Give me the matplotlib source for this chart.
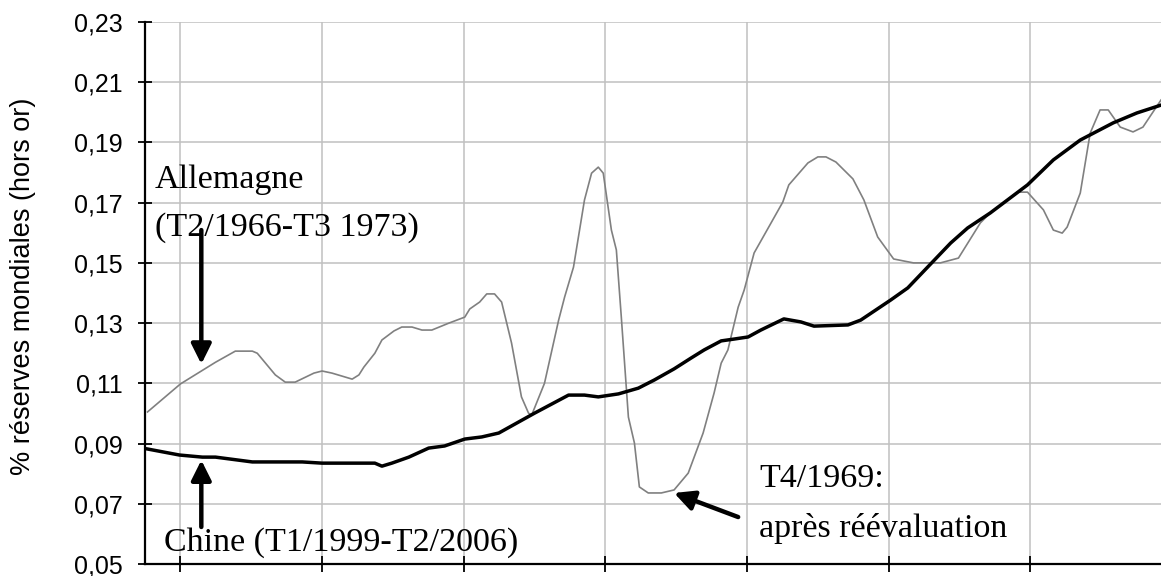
import matplotlib
matplotlib.use("Agg")
import matplotlib.pyplot as plt
from matplotlib.ticker import FuncFormatter


# trimestres depuis le debut de chaque periode
t_allemagne = [0.07, 1.00, 1.99, 2.55, 3.03, 3.17, 3.68, 3.96, 4.24, 4.77,
               5.00, 5.28, 5.85, 6.04, 6.18, 6.49, 6.69, 7.03, 7.25, 7.54,
               7.82, 8.10, 8.58, 9.03, 9.17, 9.45, 9.65, 9.87, 10.07, 10.35,
               10.63, 10.83, 10.92, 11.28, 11.68, 11.85, 12.10, 12.41, 12.61, 12.80,
               12.94, 13.17, 13.31, 13.45, 13.65, 13.82, 13.96, 14.21, 14.58, 14.94,
               15.34, 15.76, 16.07, 16.27, 16.46, 16.75, 16.92, 17.20, 17.68, 18.01,
               18.18, 18.72, 19.00, 19.23, 19.51, 19.99, 20.30, 20.69, 21.14, 21.70,
               22.46, 22.97, 23.59, 23.87, 24.63, 24.92, 25.37, 25.65, 25.90, 26.04,
               26.41, 26.69, 26.97, 27.20, 27.54, 27.90, 28.18, 28.69]

allemagne = [0.1005, 0.1098, 0.1170, 0.1207, 0.1207, 0.1200, 0.1128, 0.1104, 0.1104, 0.1134,
             0.1141, 0.1134, 0.1114, 0.1128, 0.1154, 0.1200, 0.1244, 0.1274, 0.1287, 0.1287,
             0.1277, 0.1277, 0.1300, 0.1320, 0.1347, 0.1370, 0.1397, 0.1397, 0.1370, 0.1234,
             0.1055, 0.1001, 0.0995, 0.1100, 0.1310, 0.1387, 0.1486, 0.1709, 0.1798, 0.1818,
             0.1798, 0.1609, 0.1543, 0.1320, 0.0988, 0.0902, 0.0756, 0.0736, 0.0736, 0.0746,
             0.0802, 0.0935, 0.1068, 0.1167, 0.1211, 0.1353, 0.1410, 0.1533, 0.1633, 0.1702,
             0.1759, 0.1832, 0.1852, 0.1852, 0.1835, 0.1779, 0.1709, 0.1586, 0.1513, 0.1500,
             0.1500, 0.1516, 0.1633, 0.1666, 0.1735, 0.1735, 0.1676, 0.1609, 0.1599, 0.1619,
             0.1732, 0.1931, 0.2008, 0.2008, 0.1951, 0.1935, 0.1951, 0.2041]

t_chine = [0.07, 0.97, 1.62, 1.99, 3.03, 4.44, 5.00, 6.49, 6.69, 6.97,
           7.45, 8.01, 8.46, 9.03, 9.51, 9.99, 11.00, 11.96, 12.41, 12.80,
           13.37, 13.93, 14.38, 14.94, 15.42, 15.79, 16.27, 16.63, 17.03, 17.39,
           18.04, 18.52, 18.89, 19.85, 20.21, 21.06, 21.54, 22.10, 22.75, 23.23,
           23.87, 24.92, 25.65, 26.41, 27.34, 28.01, 28.69]

chine = [0.0882, 0.0862, 0.0855, 0.0855, 0.0839, 0.0839, 0.0835, 0.0835, 0.0825, 0.0835,
         0.0855, 0.0885, 0.0892, 0.0915, 0.0922, 0.0935, 0.1001, 0.1061, 0.1061, 0.1055,
         0.1065, 0.1084, 0.1111, 0.1148, 0.1184, 0.1211, 0.1241, 0.1247, 0.1254, 0.1277,
         0.1314, 0.1304, 0.1290, 0.1294, 0.1310, 0.1377, 0.1417, 0.1486, 0.1566, 0.1616,
         0.1666, 0.1759, 0.1842, 0.1908, 0.1965, 0.1998, 0.2024]

y_ticks = [0.05, 0.07, 0.09, 0.11, 0.13, 0.15, 0.17, 0.19, 0.21, 0.23]
x_ticks = [1, 5, 9, 13, 17, 21, 25]


serif = "Liberation Serif"
sans = "Liberation Sans"
plt.rcParams["font.family"] = sans

fig = plt.figure(figsize=(11.61, 5.76), dpi=100)
ax = fig.add_axes([0.1249, 0.0208, 0.8751, 0.941])

ax.plot(t_allemagne, allemagne, color="#808080", linewidth=1.2, zorder=3)
ax.plot(t_chine, chine, color="black", linewidth=2.5, zorder=4)

ax.set_xlim(0.0, 28.69)
ax.set_ylim(0.05, 0.23)

ax.set_yticks(y_ticks)
ax.set_xticks(x_ticks)
ax.set_xticklabels([])
ax.yaxis.set_major_formatter(FuncFormatter(lambda v, p: f"{v:.2f}".replace(".", ",")))

ax.tick_params(axis="y", direction="inout", length=10, width=1.3, pad=11.0,
               labelsize=18)
ax.tick_params(axis="x", direction="inout", length=11.5, width=1.3)

ax.grid(True, color="#c0c0c0", linewidth=1.1, zorder=0)
ax.set_axisbelow(True)

ax.spines["top"].set_visible(False)
ax.spines["right"].set_visible(False)
ax.spines["left"].set_linewidth(1.6)
ax.spines["bottom"].set_linewidth(1.6)

ax.set_ylabel("% réserves mondiales (hors or)", fontsize=19.5)
ax.yaxis.set_label_coords(-0.107, 0.512)


# annotations
ax.text(0.27, 0.1749, "Allemagne", fontfamily=serif, fontsize=24.5, va="baseline")
ax.text(0.27, 0.1589, "(T2/1966-T3 1973)", fontfamily=serif, fontsize=24.5, va="baseline")
ax.text(0.55, 0.0543, "Chine (T1/1999-T2/2006)", fontfamily=serif, fontsize=24.5,
        va="baseline", zorder=6)
ax.text(17.34, 0.0756, "T4/1969:", fontfamily=serif, fontsize=24.5, va="baseline")
ax.text(17.34, 0.0590, "après réévaluation", fontfamily=serif, fontsize=24.5, va="baseline")

arrow = dict(arrowstyle="-|>,head_length=1.2,head_width=0.6", color="black",
             linewidth=3.2, shrinkA=0, shrinkB=0)
ax.annotate("", xy=(1.59, 0.1164), xytext=(1.59, 0.1609), arrowprops=arrow, zorder=5)
ax.annotate("", xy=(1.59, 0.0845), xytext=(1.59, 0.0623), arrowprops=arrow, zorder=5)
ax.annotate("", xy=(14.94, 0.0736), xytext=(16.75, 0.0656), arrowprops=arrow, zorder=5)


plt.savefig("out.png", dpi=100)
